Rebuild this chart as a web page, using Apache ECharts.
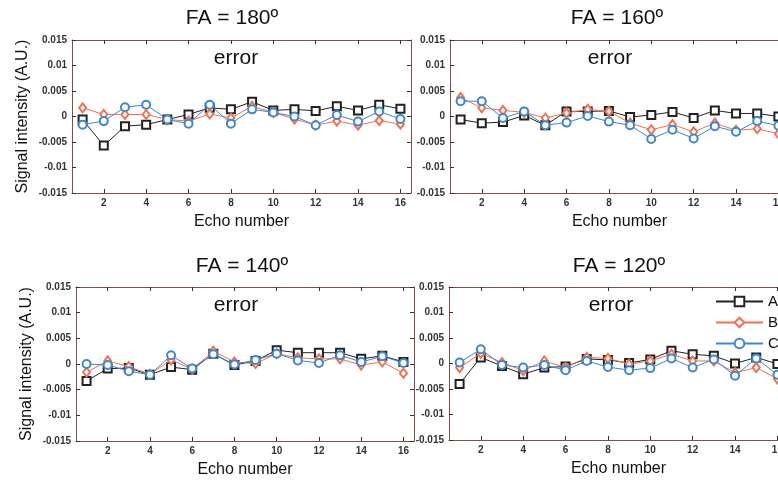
<!DOCTYPE html>
<html>
<head>
<meta charset="utf-8">
<script src="https://cdn.jsdelivr.net/npm/echarts@6/dist/echarts.min.js"></script>
<style>
html,body{margin:0;padding:0;background:#fff;}
#chart{width:778px;height:481px;}
</style>
</head>
<body>
<div id="chart"></div>
<script>
// ---- Data ----
const echoNumbers = ['1','2','3','4','5','6','7','8','9','10','11','12','13','14','15','16'];
const seriesNames = ['A','B','C'];
const panelTitles = ['FA = 180º','FA = 160º','FA = 140º','FA = 120º'];
const yTicks = [-0.015,-0.01,-0.005,0,0.005,0.01,0.015];

// FA = 180
const fa180_A = [-0.0006,-0.0057,-0.0019,-0.0016,-0.0006,0.0004,0.0017,0.0014,0.0029,0.0012,0.0014,0.0011,0.0020,0.0012,0.0023,0.0015];
const fa180_B = [0.0017,0.0004,0.0004,0.0004,-0.0006,-0.0009,0.0005,-0.0003,0.0020,0.0008,-0.0005,-0.0017,-0.0009,-0.0017,-0.0008,-0.0015];
const fa180_C = [-0.0016,-0.0009,0.0018,0.0023,-0.0006,-0.0014,0.0023,-0.0014,0.0014,0.0008,0.0000,-0.0017,0.0003,-0.0010,0.0010,-0.0005];
// FA = 160
const fa160_A = [-0.0006,-0.0013,-0.0011,0.0002,-0.0017,0.0010,0.0010,0.0011,-0.0001,0.0003,0.0009,-0.0003,0.0012,0.0006,0.0006,0.0000];
const fa160_B = [0.0037,0.0017,0.0012,0.0008,-0.0003,0.0007,0.0014,0.0010,-0.0013,-0.0026,-0.0016,-0.0030,-0.0013,-0.0027,-0.0024,-0.0034];
const fa160_C = [0.0030,0.0030,-0.0003,0.0010,-0.0017,-0.0012,0.0001,-0.0010,-0.0017,-0.0044,-0.0026,-0.0043,-0.0019,-0.0030,-0.0009,-0.0018];
// FA = 140
const fa140_A = [-0.0033,-0.0009,-0.0008,-0.0021,-0.0006,-0.0011,0.0020,-0.0002,0.0006,0.0027,0.0022,0.0022,0.0022,0.0010,0.0016,0.0004];
const fa140_B = [-0.0016,0.0006,-0.0005,-0.0020,0.0008,-0.0010,0.0025,0.0004,0.0001,0.0020,0.0012,0.0010,0.0010,-0.0002,0.0004,-0.0018];
const fa140_C = [0.0000,-0.0002,-0.0014,-0.0021,0.0017,-0.0009,0.0019,-0.0001,0.0008,0.0020,0.0007,0.0002,0.0017,0.0004,0.0015,0.0002];
// FA = 120
const fa120_A = [-0.0040,0.0012,-0.0005,-0.0021,-0.0008,-0.0006,0.0009,0.0007,0.0001,0.0008,0.0025,0.0018,0.0015,0.0000,0.0012,-0.0001];
const fa120_B = [-0.0008,0.0020,0.0002,-0.0014,0.0005,-0.0008,0.0012,0.0010,-0.0001,0.0005,0.0018,0.0005,0.0005,-0.0018,-0.0008,-0.0030];
const fa120_C = [0.0002,0.0028,-0.0003,-0.0008,-0.0003,-0.0013,0.0005,-0.0007,-0.0013,-0.0009,0.0010,-0.0008,0.0008,-0.0024,0.0010,-0.0022];

const panelData = [
  [fa180_A, fa180_B, fa180_C],
  [fa160_A, fa160_B, fa160_C],
  [fa140_A, fa140_B, fa140_C],
  [fa120_A, fa120_B, fa120_C]
];

// ---- Styling / layout ----
const colors = ['#222222', '#f2714f', '#3d87d6'];
const symbols = ['emptyRect', 'emptyDiamond', 'emptyCircle'];
const symbolSizes = [8, [7, 9], 8];
const frameColor = '#7a5248';
const font = 'Liberation Sans, Arial, sans-serif';
const grids = [
  {left: 72,  top: 40,  width: 339, height: 153},
  {left: 450, top: 40,  width: 339, height: 153},
  {left: 76,  top: 287, width: 338, height: 154},
  {left: 449, top: 287, width: 339, height: 153}
];
const titlePos = [[232, 18], [617, 18], [242, 266], [619, 266]];
const errorPos = [[236, 58], [610, 58], [236, 305], [611, 305]];

const evenIdx = (i) => i % 2 === 1;
const xAxes = [], yAxes = [], series = [], graphics = [];
grids.forEach((g, gi) => {
  xAxes.push({
    type: 'category', gridIndex: gi, data: echoNumbers, boundaryGap: true, position: 'bottom',
    name: 'Echo number', nameLocation: 'middle', nameGap: 21,
    nameTextStyle: {fontFamily: font, fontSize: 16, color: '#111'},
    axisLine: {show: true, onZero: false, lineStyle: {color: frameColor, width: 1}},
    axisTick: {show: true, inside: true, length: 4, alignWithLabel: true, interval: evenIdx, lineStyle: {color: '#333'}},
    axisLabel: {interval: evenIdx, margin: 5, fontFamily: font, fontSize: 10, fontWeight: 'bold', color: '#333'},
    splitLine: {show: false}
  });
  xAxes.push({
    type: 'category', gridIndex: gi, data: echoNumbers, boundaryGap: true, position: 'top',
    axisLine: {show: true, onZero: false, lineStyle: {color: frameColor, width: 1}},
    axisTick: {show: true, inside: true, length: 4, alignWithLabel: true, interval: evenIdx, lineStyle: {color: '#333'}},
    axisLabel: {show: false}, splitLine: {show: false}
  });
  const yLeft = {
    type: 'value', gridIndex: gi, min: yTicks[0], max: yTicks[yTicks.length - 1], interval: 0.005, position: 'left',
    axisLine: {show: true, onZero: false, lineStyle: {color: frameColor, width: 1}},
    axisTick: {show: true, inside: true, length: 4, lineStyle: {color: '#333'}},
    axisLabel: {margin: 5, fontFamily: font, fontSize: 10, fontWeight: 'bold', color: '#333',
      formatter: (v) => String(parseFloat(v.toFixed(4)))},
    splitLine: {show: false}
  };
  if (gi === 0 || gi === 2) {
    yLeft.name = 'Signal intensity (A.U.)';
    yLeft.nameLocation = 'middle';
    yLeft.nameGap = 41;
    yLeft.nameTextStyle = {fontFamily: font, fontSize: 16, color: '#111'};
  }
  yAxes.push(yLeft);
  yAxes.push({
    type: 'value', gridIndex: gi, min: yTicks[0], max: yTicks[yTicks.length - 1], interval: 0.005, position: 'right',
    axisLine: {show: true, onZero: false, lineStyle: {color: frameColor, width: 1}},
    axisTick: {show: true, inside: true, length: 4, lineStyle: {color: '#333'}},
    axisLabel: {show: false}, splitLine: {show: false}
  });
  panelData[gi].forEach((vals, si) => {
    series.push({
      name: seriesNames[si], type: 'line', xAxisIndex: gi * 2, yAxisIndex: gi * 2,
      data: vals, symbol: symbols[si], symbolSize: symbolSizes[si], showAllSymbol: true,
      lineStyle: {color: colors[si], width: 1},
      itemStyle: {color: colors[si], borderWidth: 1},
      animation: false, z: 2 + si
    });
  });
  graphics.push({type: 'text', x: titlePos[gi][0], y: titlePos[gi][1],
    style: {text: panelTitles[gi], font: '21px ' + font, fill: '#111', textAlign: 'center', textVerticalAlign: 'middle'}});
  graphics.push({type: 'text', x: errorPos[gi][0], y: errorPos[gi][1], z: 10,
    style: {text: 'error', font: '21px ' + font, fill: '#111', textAlign: 'center', textVerticalAlign: 'middle'}});
});

const chart = echarts.init(document.getElementById('chart'), null, {renderer: 'canvas'});
chart.setOption({
  backgroundColor: '#ffffff',
  animation: false,
  grid: grids.map(g => Object.assign({containLabel: false, outerBoundsMode: 'none'}, g)),
  xAxis: xAxes,
  yAxis: yAxes,
  series: series,
  legend: {
    orient: 'vertical', left: 710, top: 289, itemWidth: 47, itemHeight: 12, itemGap: 6,
    data: seriesNames, textStyle: {fontFamily: font, fontSize: 15, color: '#111'}
  },
  graphic: graphics
});
</script>
</body>
</html>
